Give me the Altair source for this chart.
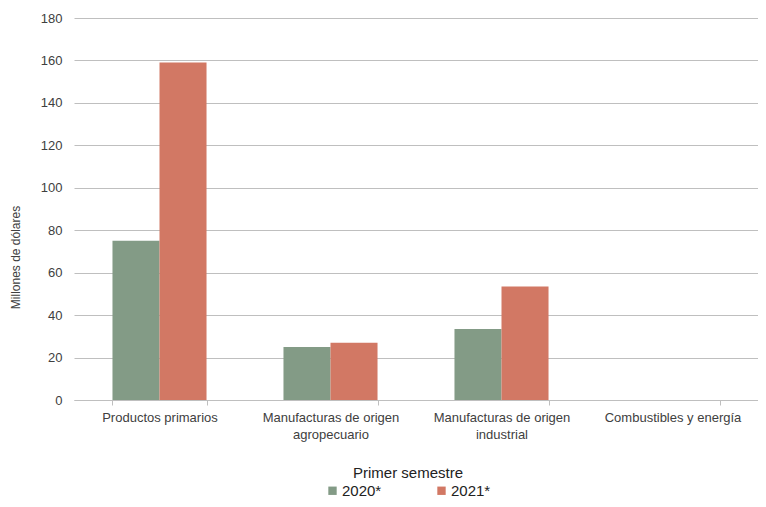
import altair as alt
import pandas as pd

categories = ["Productos primarios", "Manufacturas de origen agropecuario",
              "Manufacturas de origen industrial", "Combustibles y energía"]
series = ["2020*", "2021*"]
values_2020 = [75, 25, 33.5, 0]
values_2021 = [159, 27, 53.5, 0]
y_ticks = [0, 20, 40, 60, 80, 100, 120, 140, 160, 180]

rows = []
for c, a, b in zip(categories, values_2020, values_2021):
    rows.append({"cat": c, "serie": series[0], "val": a})
    rows.append({"cat": c, "serie": series[1], "val": b})
df = pd.DataFrame(rows)

FONT = "Liberation Sans"
TXT = "#404040"

label_expr = ("isString(datum.value) && length(datum.value) > 22 ? "
              "[substring(datum.value,0,22), substring(datum.value,23)] : datum.label")

chart = alt.Chart(df).mark_bar().encode(
    x=alt.X("cat:N", sort=categories, title=None,
            scale=alt.Scale(paddingInner=0.45, paddingOuter=0.225),
            axis=alt.Axis(labelAngle=0, labelFontSize=13, labelColor=TXT, labelFont=FONT,
                          labelLimit=300, labelPadding=6, labelLineHeight=17,
                          tickBand="extent", tickSize=5,
                          tickColor="#BFBFBF", domainColor="#BFBFBF", grid=False,
                          labelExpr=label_expr)),
    xOffset=alt.XOffset("serie:N", sort=series),
    y=alt.Y("val:Q", title="Millones de dólares",
            scale=alt.Scale(domain=[0, 180], nice=False),
            axis=alt.Axis(values=y_ticks, labelFontSize=13, labelColor=TXT, labelFont=FONT,
                          labelPadding=12, ticks=False, domain=False, gridColor="#BFBFBF",
                          titleFont=FONT, titleFontSize=12, titleFontWeight="normal",
                          titleColor=TXT, titleAngle=270, titleX=-59, titleY=239,
                          titleAlign="center", titleBaseline="middle")),
    color=alt.Color("serie:N", sort=series,
                    scale=alt.Scale(domain=series, range=["#839B86", "#D27864"]),
                    legend=alt.Legend(title="Primer semestre", orient="none",
                                      direction="horizontal", columns=2,
                                      legendX=251, legendY=448,
                                      titleFont=FONT, titleFontSize=15,
                                      titleFontWeight="normal", titleColor="#222222",
                                      titleAnchor="middle", titlePadding=2,
                                      labelFont=FONT, labelFontSize=15, labelColor="#222222",
                                      symbolType="square", symbolSize=70,
                                      labelOffset=2, columnPadding=52)),
).properties(
    width=684, height=382,
    autosize=alt.AutoSizeParams(type="none"),
    padding={"left": 66, "top": 10, "right": 0, "bottom": 99},
).configure_view(strokeOpacity=0)

chart.save("out.html", embed_options={"renderer": "svg", "actions": False})
